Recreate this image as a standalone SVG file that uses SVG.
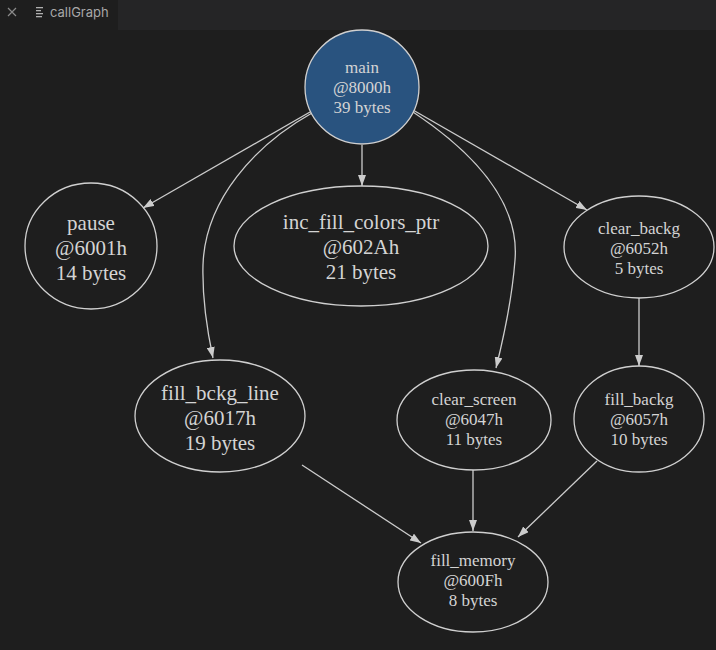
<svg xmlns="http://www.w3.org/2000/svg" width="716" height="650" viewBox="0 0 716 650">
<defs>
<style>
.node ellipse{fill:none;stroke:#d0d0d0;stroke-width:1.3}
.node text{font-family:"Liberation Serif","Times New Roman",serif;fill:#d4d4d4;text-anchor:middle}
.s17 text{font-size:17px}
.s21 text{font-size:21px}
#edges path{fill:none;stroke:#cccccc;stroke-width:1.3}
</style>
<marker id="ah" markerUnits="userSpaceOnUse" viewBox="0 0 11 8" refX="11" refY="4" markerWidth="11" markerHeight="8" orient="auto">
<path d="M0,0 L11,4 L0,8 z" fill="#cccccc"/>
</marker>
</defs>
<rect width="716" height="650" fill="#1e1e1e"/>
<g id="tabbar">
<rect x="0" y="0" width="716" height="30" fill="#252526"/>
<rect x="0" y="0" width="118" height="30" fill="#1e1e1e"/>
<path d="M8,8 L16,16 M16,8 L8,16" stroke="#8a8a8a" stroke-width="1.2"/>
<rect x="36" y="7" width="7" height="1.3" fill="#b0b0b0"/>
<rect x="36" y="10" width="5" height="1.3" fill="#b0b0b0"/>
<rect x="36" y="13" width="7" height="1.3" fill="#b0b0b0"/>
<rect x="36" y="16" width="6" height="1.3" fill="#b0b0b0"/>
<text x="50" y="17" font-family="Inter,'Liberation Sans',sans-serif" font-size="13" fill="#a8a8a8">callGraph</text>
</g>
<g id="edges">
<path d="M310,112 L143,208" marker-end="url(#ah)"/>
<path d="M362,145 L362,186" marker-end="url(#ah)"/>
<path d="M312,113 C255,145 205,200 203,265 C202,300 207,330 213,358" marker-end="url(#ah)"/>
<path d="M413,112 C470,150 520,200 515,260 C512,300 503,340 496,368" marker-end="url(#ah)"/>
<path d="M413,110 L587,210" marker-end="url(#ah)"/>
<path d="M639,298 L639,366" marker-end="url(#ah)"/>
<path d="M302,465 L421,543" marker-end="url(#ah)"/>
<path d="M473,470 L473,531" marker-end="url(#ah)"/>
<path d="M597,461 L518,537" marker-end="url(#ah)"/>
</g>
<g id="main" class="node s17">
<ellipse cx="362" cy="87" rx="57" ry="57" style="fill:#29537f"/>
<text x="362" y="73">main</text>
<text x="362" y="93">@8000h</text>
<text x="362" y="113">39 bytes</text>
</g>
<g id="pause" class="node s21">
<ellipse cx="91" cy="246" rx="66" ry="63"/>
<text x="91" y="230">pause</text>
<text x="91" y="255">@6001h</text>
<text x="91" y="280">14 bytes</text>
</g>
<g id="inc_fill_colors_ptr" class="node s21">
<ellipse cx="361" cy="246" rx="127" ry="60"/>
<text x="361" y="229">inc_fill_colors_ptr</text>
<text x="361" y="254">@602Ah</text>
<text x="361" y="279">21 bytes</text>
</g>
<g id="clear_backg" class="node s17">
<ellipse cx="639" cy="247" rx="75" ry="51"/>
<text x="639" y="234">clear_backg</text>
<text x="639" y="254">@6052h</text>
<text x="639" y="274">5 bytes</text>
</g>
<g id="fill_bckg_line" class="node s21">
<ellipse cx="220" cy="416" rx="85" ry="56"/>
<text x="220" y="400">fill_bckg_line</text>
<text x="220" y="425">@6017h</text>
<text x="220" y="450">19 bytes</text>
</g>
<g id="clear_screen" class="node s17">
<ellipse cx="474" cy="420" rx="77" ry="50"/>
<text x="474" y="405">clear_screen</text>
<text x="474" y="425">@6047h</text>
<text x="474" y="445">11 bytes</text>
</g>
<g id="fill_backg" class="node s17">
<ellipse cx="639" cy="419" rx="65" ry="53"/>
<text x="639" y="405">fill_backg</text>
<text x="639" y="425">@6057h</text>
<text x="639" y="445">10 bytes</text>
</g>
<g id="fill_memory" class="node s17">
<ellipse cx="473" cy="582" rx="75" ry="50"/>
<text x="473" y="566">fill_memory</text>
<text x="473" y="586">@600Fh</text>
<text x="473" y="606">8 bytes</text>
</g>
</svg>
